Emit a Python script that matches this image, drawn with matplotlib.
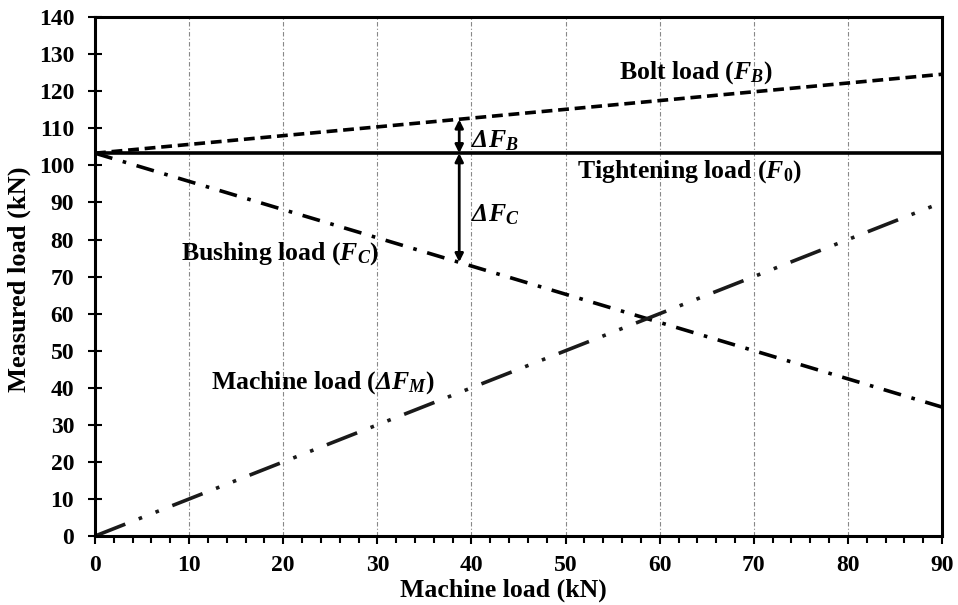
import numpy as np
import matplotlib
matplotlib.use("Agg")
import matplotlib.pyplot as plt

plt.rcParams['font.family'] = 'Liberation Serif'
plt.rcParams['font.weight'] = 'bold'
plt.rcParams['mathtext.fontset'] = 'custom'
# bold italic for letters and greek capitals, bold upright for digits
plt.rcParams['mathtext.it'] = 'Liberation Serif:bold:italic'
plt.rcParams['mathtext.rm'] = 'Liberation Serif:bold:italic'
plt.rcParams['mathtext.bf'] = 'Liberation Serif:bold'

# machine load (kN) and the loads
machine_load = [0, 90]
tightening_load = [103.3, 103.3]
bolt_load = [103.3, 124.6]
bushing_load = [103.3, 34.8]
machine_line = [0, 90]

# where the delta arrows are drawn
delta_x = 38.7
bolt_at_delta = 112.4
bushing_at_delta = 73.9

fig = plt.figure(figsize=(9.58, 6.05), dpi=100)
ax = fig.add_axes([0.0992, 0.114, 0.8841, 0.8576])

lw = 2.6
ax.plot(machine_load, tightening_load, color='black', lw=lw, solid_capstyle='butt')
ax.plot(machine_load, bolt_load, color='black', lw=lw, linestyle=(0, (3, 1.6)))
ax.plot(machine_load, bushing_load, color='black', lw=lw, linestyle=(0, (5, 3, 1, 3)))
ax.plot(machine_line, machine_line, color='#1a1a1a', lw=lw, linestyle=(0, (9, 4, 1, 4, 1, 4)))

# delta arrows
arrow = dict(arrowstyle='<|-|>', color='black', lw=2, mutation_scale=12, shrinkA=0, shrinkB=0)
ax.annotate('', xy=(delta_x, bolt_at_delta), xytext=(delta_x, tightening_load[0]), arrowprops=arrow)
ax.annotate('', xy=(delta_x, bushing_at_delta), xytext=(delta_x, tightening_load[0]), arrowprops=arrow)

fs = 18.5
tfs = 17
ax.text(63.8, 125, r'Bolt load ($F_B$)', fontsize=fs, ha='center', va='center')
ax.text(63.2, 98.4, r'Tightening load ($F_\mathbf{0}$)', fontsize=fs, ha='center', va='center')
ax.text(19.7, 76.2, r'Bushing load ($F_C$)', fontsize=fs, ha='center', va='center')
ax.text(24.2, 41.3, r'Machine load ($\Delta F_M$)', fontsize=fs, ha='center', va='center')
ax.text(40.0, 106.6, r'$\Delta F_B$', fontsize=fs, ha='left', va='center')
ax.text(40.0, 86.6, r'$\Delta F_C$', fontsize=fs, ha='left', va='center')

ax.set_xlim(0, 90)
ax.set_ylim(0, 140)
ax.set_xticks(np.arange(0, 91, 10))
ax.set_xticks(np.arange(0, 91, 2), minor=True)
ax.set_yticks(np.arange(0, 141, 10))
ax.tick_params(axis='x', which='major', direction='out', length=6, width=1.5, labelsize=tfs, pad=8)
ax.tick_params(axis='x', which='minor', direction='out', length=5, width=1.5)
ax.tick_params(axis='y', which='major', direction='inout', length=10, width=1.5, labelsize=tfs, pad=10)

for s in ax.spines.values():
    s.set_linewidth(2.2)

ax.grid(axis='x', which='major', color='#888888', linestyle=(0, (4, 2, 1, 2)), lw=0.8)
ax.set_axisbelow(True)

ax.set_xlabel('Machine load (kN)', fontsize=fs, fontweight='bold')
ax.set_ylabel('Measured load (kN)', fontsize=19, fontweight='bold')
ax.xaxis.set_label_coords(0.482, -0.082)
ax.yaxis.set_label_coords(-0.076, 0.495)

fig.savefig('out.png', dpi=100)
